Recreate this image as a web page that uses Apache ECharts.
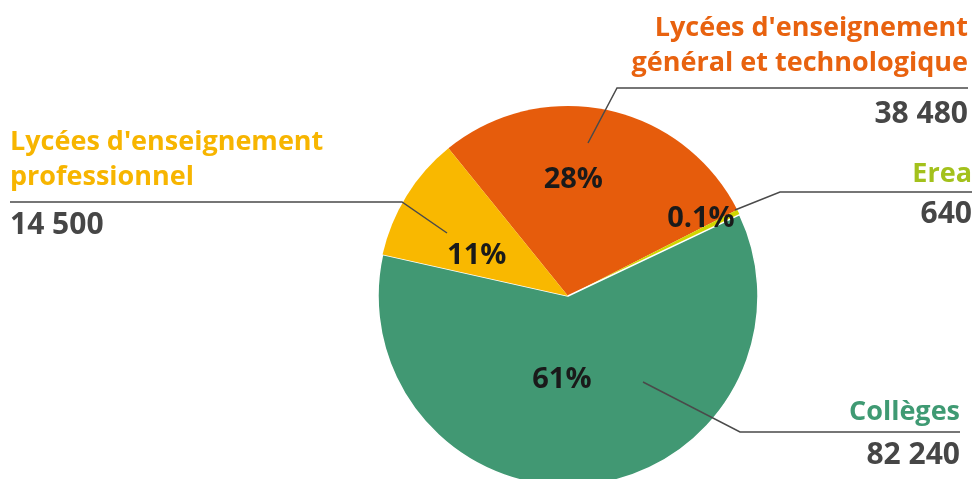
<!DOCTYPE html>
<html>
<head>
<meta charset="utf-8">
<script src="https://cdn.jsdelivr.net/npm/echarts@6/dist/echarts.min.js"></script>
<style>
  html, body { margin: 0; padding: 0; background: #fff; }
  #chart { width: 974px; height: 479px; }
</style>
</head>
<body>
<div id="chart"></div>
<script>
// données (ordre horaire depuis la frontière jaune/orange)
const categories = [
  "Lycées d'enseignement\ngénéral et technologique",
  "Erea",
  "Collèges",
  "Lycées d'enseignement\nprofessionnel"
];
const values = [38480, 640, 82240, 14500];
const valueLabels = ["38 480", "640", "82 240", "14 500"];
const percentLabels = ["28%", "0.1%", "61%", "11%"];

const sliceColors = ["#e65c0c", "#d0d600", "#419873", "#f9b800"];
const textColors = ["#e8620f", "#a3c11c", "#3f9a73", "#f7b500"];

// placement des étiquettes : départ du trait, coude, bout de la ligne
const leaders = [
  { start: [588, 143], elbow: [617, 88], end: 968, side: "right", nameGap: 7, valueGap: 11 },
  { start: [735, 210], elbow: [780, 192], end: 972, side: "right", nameGap: 0, valueGap: 7 },
  { start: [643, 382], elbow: [740, 432], end: 960, side: "right", nameGap: 2, valueGap: 8 },
  { start: [447, 233], elbow: [402, 202], end: 10, side: "left", nameGap: 7, valueGap: 8 }
];
// petits décalages des pourcentages intérieurs
const pctShift = [[-15, -20], [45, -34], [-17, -14], [-8, 11]];

const FONT = "Open Sans";
const center = ["568", "296"];
const radius = 190;
const startAngle = 129;

const chart = echarts.init(document.getElementById("chart"), null, { renderer: "canvas" });

const pieData = categories.map((c, i) => ({
  name: c,
  value: values[i],
  itemStyle: i === 2
    ? { color: sliceColors[i], borderColor: "#fff", borderWidth: 1.5 }
    : { color: sliceColors[i], borderWidth: 0 }
}));

const ghost = {
  type: "pie",
  center: center,
  radius: radius,
  startAngle: startAngle,
  silent: true,
  z: 5,
  avoidLabelOverlap: false,
  itemStyle: { color: "rgba(0,0,0,0)" },
  emphasis: { disabled: true }
};

chart.setOption({
  animation: false,
  series: [
    {
      type: "pie",
      center: center,
      radius: radius,
      startAngle: startAngle,
      silent: true,
      avoidLabelOverlap: false,
      emphasis: { disabled: true },
      data: pieData,
      label: {
        position: "inside",
        formatter: (p) => percentLabels[p.dataIndex],
        color: "#1a1a1a",
        fontFamily: FONT,
        fontWeight: "bold",
        fontSize: 29
      },
      labelLine: { show: false },
      labelLayout: (p) => ({ dx: pctShift[p.dataIndex][0], dy: pctShift[p.dataIndex][1] })
    },
    Object.assign({}, ghost, {
      data: categories.map((c, i) => ({
        name: c, value: values[i], label: { color: textColors[i] }
      })),
      label: {
        show: true,
        position: "outside",
        formatter: (p) => p.name,
        fontFamily: FONT,
        fontWeight: "bold",
        fontSize: 27,
        lineHeight: 35
      },
      labelLine: { show: true, lineStyle: { color: "#4a4a4a", width: 1.5 } },
      labelLayout: (p) => {
        const l = leaders[p.dataIndex];
        return {
          x: l.end,
          y: l.elbow[1] - l.nameGap,
          align: l.side === "right" ? "right" : "left",
          verticalAlign: "bottom",
          labelLinePoints: [l.start, l.elbow, [l.end, l.elbow[1]]]
        };
      }
    }),
    Object.assign({}, ghost, {
      data: categories.map((c, i) => ({ name: c, value: values[i] })),
      label: {
        show: true,
        position: "outside",
        formatter: (p) => valueLabels[p.dataIndex],
        fontFamily: FONT,
        fontWeight: "bold",
        fontSize: 30,
        lineHeight: 30,
        color: "#464646"
      },
      labelLine: { show: false },
      labelLayout: (p) => {
        const l = leaders[p.dataIndex];
        return {
          x: l.end,
          y: l.elbow[1] + l.valueGap,
          align: l.side === "right" ? "right" : "left",
          verticalAlign: "top"
        };
      }
    })
  ]
});
</script>
</body>
</html>
